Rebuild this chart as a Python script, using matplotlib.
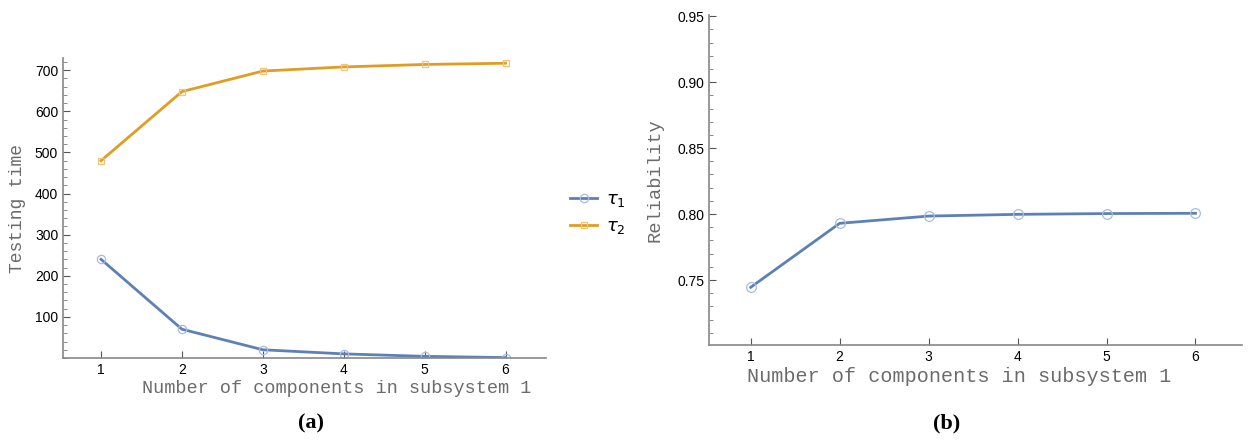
import matplotlib.pyplot as plt
from matplotlib.ticker import MultipleLocator

# data
n_comp = [1, 2, 3, 4, 5, 6]
tau1 = [240, 70, 20, 10, 4, 1]
tau2 = [480, 648, 698, 708, 714, 717]
reliab = [0.7445, 0.7930, 0.7985, 0.7998, 0.8004, 0.8006]

blue = '#5e81b5'
orange = '#e19c24'
grey = '#6b6b6b'
mono = 'Liberation Mono'
sans = 'Liberation Sans'

fig = plt.figure(figsize=(12.48, 4.44), dpi=100)
ax1 = fig.add_axes([0.0505, 0.1937, 0.387, 0.675])
ax2 = fig.add_axes([0.568, 0.223, 0.427, 0.743])


def style(ax):
    for s in ['top', 'right']:
        ax.spines[s].set_visible(False)
    for s in ['left', 'bottom']:
        ax.spines[s].set_color('#888888')
        ax.spines[s].set_linewidth(1.2)
    ax.tick_params(direction='in', length=5, width=0.8, color='#555555', labelsize=10)
    ax.tick_params(which='minor', direction='in', length=3, width=0.6, color='#777777')
    for lab in ax.get_xticklabels() + ax.get_yticklabels():
        lab.set_fontfamily(sans)
    ax.set_xticks(n_comp)


# panel (a)
ax1.plot(n_comp, tau1, color=blue, lw=2, marker='o', ms=6, mfc='none',
         mec='#a9bbe0', mew=0.9, label=r'$\tau_1$')
ax1.plot(n_comp, tau2, color=orange, lw=2, marker='s', ms=4.5, mfc='none',
         mec='#f0c27a', mew=0.9, label=r'$\tau_2$')
ax1.set_xlim(0.53, 6.5)
ax1.set_ylim(0, 729)
ax1.set_yticks([100, 200, 300, 400, 500, 600, 700])
ax1.yaxis.set_minor_locator(MultipleLocator(20))
style(ax1)
ax1.set_ylabel('Testing time', family=mono, fontsize=13, color=grey, labelpad=6)
ax1.set_xlabel('Number of components in subsystem 1', family=mono, fontsize=13.3,
               color=grey)
ax1.xaxis.set_label_coords(0.567, -0.072)
leg = ax1.legend(loc='center left', bbox_to_anchor=(1.05, 0.483), frameon=False,
                 fontsize=13, handlelength=1.5, handletextpad=0.5,
                 labelspacing=0.45, borderaxespad=0, borderpad=0)

# panel (b)
ax2.plot(n_comp, reliab, color=blue, lw=2, marker='o', ms=7, mfc='none',
         mec='#a9bbe0', mew=0.9)
ax2.set_xlim(0.53, 6.52)
ax2.set_ylim(0.7008, 0.9508)
ax2.set_yticks([0.75, 0.80, 0.85, 0.90, 0.95])
ax2.set_yticklabels(['0.75', '0.80', '0.85', '0.90', '0.95'])
ax2.yaxis.set_minor_locator(MultipleLocator(0.01))
style(ax2)
ax2.set_ylabel('Reliability', family=mono, fontsize=13.5, color=grey, labelpad=10)
ax2.set_xlabel('Number of components in subsystem 1', family=mono, fontsize=14.5,
               color=grey)
ax2.xaxis.set_label_coords(0.469, -0.068)

fig.text(0.2495, 0.035, '(a)', family='Liberation Serif', weight='bold',
         fontsize=16, ha='center')
fig.text(0.7585, 0.035, '(b)', family='Liberation Serif', weight='bold',
         fontsize=16, ha='center')

fig.savefig('out.png', dpi=100)
